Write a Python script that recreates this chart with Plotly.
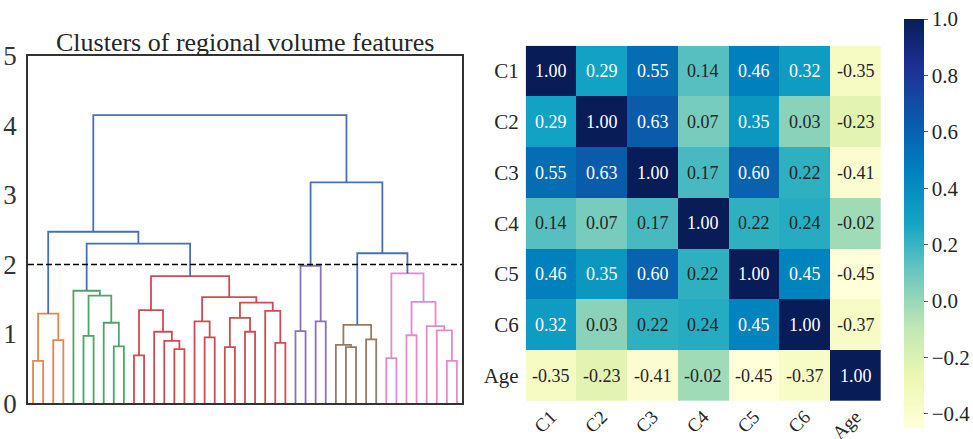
import plotly.graph_objects as go

# ---------------- Dendrogram data (scipy-style linkage, leaves already in display order) ----------------
n_leaves = 43
# each merge: (child_a, child_b, height); ids < n_leaves are leaves, id n_leaves+k is merge k
merge_a = [0, 2, 43, 5, 8, 7, 46, 4, 10, 14, 13, 12, 51, 17, 16, 19, 21, 58, 24, 23, 60, 57, 55,
           26, 28, 66, 31, 30, 33, 70, 35, 37, 41, 40, 39, 74, 73, 50, 45, 72, 68, 81]
merge_b = [1, 3, 44, 6, 9, 47, 48, 49, 11, 15, 52, 53, 54, 18, 56, 20, 22, 59, 25, 61, 62, 63, 64,
           27, 29, 67, 32, 69, 34, 71, 36, 38, 42, 75, 76, 77, 78, 65, 80, 79, 82, 83]
merge_h = [0.61, 0.91, 1.29, 0.97, 0.82, 1.16, 1.55, 1.62, 0.69, 0.78, 0.90, 1.03, 1.34, 0.95, 1.18,
           0.81, 1.03, 1.23, 0.87, 1.33, 1.45, 1.53, 1.83, 1.04, 1.18, 1.98, 0.81, 0.84, 0.92, 1.13,
           0.65, 0.98, 0.61, 1.05, 1.11, 1.46, 1.87, 2.30, 2.47, 2.16, 3.18, 4.15]
color_threshold = 2.0
cluster_palette = ["#E8844A", "#4FA565", "#CC4D52", "#8A72BB", "#967A62", "#E48ACB"]
above_color = "#4870BA"

# ---------------- Correlation heatmap data ----------------
labels = ["C1", "C2", "C3", "C4", "C5", "C6", "Age"]
corr = [
    [1.00, 0.29, 0.55, 0.14, 0.46, 0.32, -0.35],
    [0.29, 1.00, 0.63, 0.07, 0.35, 0.03, -0.23],
    [0.55, 0.63, 1.00, 0.17, 0.60, 0.22, -0.41],
    [0.14, 0.07, 0.17, 1.00, 0.22, 0.24, -0.02],
    [0.46, 0.35, 0.60, 0.22, 1.00, 0.45, -0.45],
    [0.32, 0.03, 0.22, 0.24, 0.45, 1.00, -0.37],
    [-0.35, -0.23, -0.41, -0.02, -0.45, -0.37, 1.00],
]
cbar_ticks = [-0.4, -0.2, 0.0, 0.2, 0.4, 0.6, 0.8, 1.0]

ylgnbu = ["#ffffd9", "#edf8b1", "#bee6b4", "#6ec8be", "#14a5c3",
          "#0082be", "#0a5aaa", "#1e3296", "#081d58"]
colorscale = [[i / (len(ylgnbu) - 1), c] for i, c in enumerate(ylgnbu)]

FONT = "Liberation Serif"
W, H = 973, 439

# ---------------- Build dendrogram geometry ----------------
n_merge = len(merge_h)
xpos = {i: 5 + 10 * i for i in range(n_leaves)}
ypos = {i: 0.0 for i in range(n_leaves)}
for k in range(n_merge):
    a, b = merge_a[k], merge_b[k]
    xpos[n_leaves + k] = (xpos[a] + xpos[b]) / 2
    ypos[n_leaves + k] = merge_h[k]

link_color = {}
state = {"ci": 0}


def assign(node, color):
    if node < n_leaves:
        return
    k = node - n_leaves
    if color is None and merge_h[k] < color_threshold:
        color = cluster_palette[state["ci"] % len(cluster_palette)]
        state["ci"] += 1
    link_color[k] = color if color is not None else above_color
    assign(merge_a[k], color)
    assign(merge_b[k], color)


assign(n_leaves + n_merge - 1, None)

segs = {}
for k in range(n_merge):
    a, b = merge_a[k], merge_b[k]
    xs = [xpos[a], xpos[a], xpos[b], xpos[b], None]
    ys = [ypos[a], merge_h[k], merge_h[k], ypos[b], None]
    c = link_color[k]
    segs.setdefault(c, ([], []))
    segs[c][0].extend(xs)
    segs[c][1].extend(ys)

fig = go.Figure()
for c, (xs, ys) in segs.items():
    fig.add_trace(go.Scatter(x=xs, y=ys, mode="lines", line=dict(color=c, width=1.8),
                             xaxis="x", yaxis="y", showlegend=False, hoverinfo="skip"))

# ---------------- Heatmap ----------------
zmin, zmax = -0.45, 1.0
fig.add_trace(go.Heatmap(
    z=corr, x=labels, y=labels, zmin=zmin, zmax=zmax, colorscale=colorscale,
    xaxis="x2", yaxis="y2", hoverinfo="skip",
    colorbar=dict(
        x=904 / W, xanchor="left", xpad=0, thickness=20,
        len=(428 - 19) / H, lenmode="fraction", y=1 - (19 + 428) / 2 / H, yanchor="middle", ypad=0,
        outlinewidth=0, ticks="outside", ticklen=4, tickcolor="#555", tickwidth=1,
        tickvals=cbar_ticks, tickformat=".1f",
        tickfont=dict(family=FONT, size=21, color="#262626"),
    ),
))

annotations = []
for i, row in enumerate(corr):
    for j, v in enumerate(row):
        annotations.append(dict(
            x=labels[j], y=labels[i], xref="x2", yref="y2", text=f"{v:.2f}", showarrow=False,
            font=dict(family=FONT, size=18, color="#ffffff" if v > 0.27 else "#262626"),
        ))

annotations.append(dict(
    x=245 / W, y=1 - 42 / H, xref="paper", yref="paper", xanchor="center", yanchor="middle",
    text="Clusters of regional volume features", showarrow=False,
    font=dict(family=FONT, size=26, color="#262626"),
))

fig.update_layout(
    width=W, height=H, margin=dict(l=0, r=0, t=0, b=0, autoexpand=False),
    paper_bgcolor="white", plot_bgcolor="white",
    font=dict(family=FONT, color="#262626"),
    annotations=annotations,
    shapes=[dict(type="line", xref="x domain", yref="y", x0=0, x1=1, y0=2, y1=2,
                 line=dict(color="black", width=1.5, dash="6px,3px"))],
    xaxis=dict(domain=[28 / W, 462 / W], range=[0, 10 * n_leaves], showticklabels=False,
               showgrid=False, zeroline=False, showline=True, mirror=True,
               linecolor="#333", linewidth=1.5, ticks="", anchor="y", automargin=False),
    yaxis=dict(domain=[(H - 403.3) / H, (H - 56) / H], range=[0, 5], tickvals=[0, 1, 2, 3, 4, 5],
               showgrid=False, zeroline=False, showline=True, mirror=True,
               linecolor="#333", linewidth=1.5, ticks="", ticklabelstandoff=4, automargin=False,
               tickfont=dict(family=FONT, size=27, color="#333"), anchor="x"),
    xaxis2=dict(domain=[525.7 / W, 881 / W], anchor="y2", tickangle=-45, showgrid=False,
                zeroline=False, ticks="", ticklabelstandoff=0, automargin=False,
                tickfont=dict(family=FONT, size=19, color="#262626")),
    yaxis2=dict(domain=[(H - 401) / H, (H - 45.7) / H], anchor="x2", autorange="reversed",
                showgrid=False, zeroline=False, ticks="", ticklabelstandoff=6, automargin=False,
                tickfont=dict(family=FONT, size=21, color="#262626")),
)

fig.write_html("out.html", config={"displayModeBar": False},
               post_script="document.body.style.margin='0';document.body.style.overflow='hidden';")
